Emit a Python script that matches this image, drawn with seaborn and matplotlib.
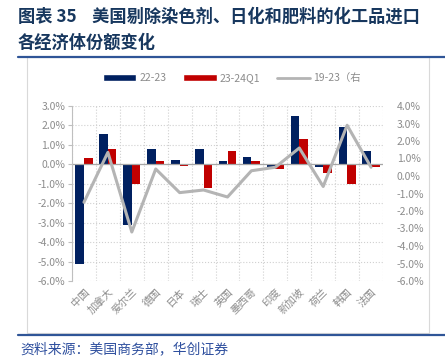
import numpy as np
import pandas as pd
import matplotlib
matplotlib.use("Agg")
import matplotlib.pyplot as plt
import seaborn as sns
from matplotlib.patches import Patch, Rectangle
from matplotlib.lines import Line2D
from matplotlib.ticker import FuncFormatter, MultipleLocator

categories = ["中国", "加拿大", "爱尔兰", "德国", "日本", "瑞士", "英国", "墨西哥",
              "印度", "新加坡", "荷兰", "韩国", "法国"]
s_2223 = [-5.1, 1.55, -3.1, 0.8, 0.2, 0.8, 0.15, 0.38, -0.15, 2.5, -0.15, 1.9, 0.7]
s_2324q1 = [0.35, 0.78, -1.0, 0.15, -0.1, -1.2, 0.7, 0.15, -0.25, 1.3, -0.45, -1.0, -0.15]
s_1923 = [-1.5, 1.35, -3.2, 0.4, -0.95, -0.8, -1.2, 0.3, 0.5, 1.6, -0.6, 2.9, 0.5]
series_names = ["22-23", "23-24Q1", "19-23（右"]
title_1 = "图表 35    美国剔除染色剂、日化和肥料的化工品进口"
title_2 = "各经济体份额变化"
source = "资料来源：美国商务部，华创证券"

sns.set_style("white")
plt.rcParams["font.family"] = ["Noto Sans CJK SC", "DejaVu Sans"]
plt.rcParams["axes.unicode_minus"] = False

navy = "#002060"
red = "#C00000"
gray_line = "#B4B4B4"
tick_gray = "#8C8C8C"
blue_rule = "#2F5597"

df = pd.DataFrame({
    "cat": categories * 2,
    "val": s_2223 + s_2324q1,
    "ser": [series_names[0]] * len(categories) + [series_names[1]] * len(categories),
})

fig = plt.figure(figsize=(4.45, 3.61), dpi=100)
W, H = 445, 361

# frame and rules
fig.add_artist(Rectangle((27 / W, 1 - 333 / H), (429 - 27) / W, (333 - 57) / H,
                         transform=fig.transFigure, fill=False, edgecolor="#D9D9D9", lw=0.8))
fig.add_artist(Line2D([18 / W, 1.0], [1 - 57 / H, 1 - 57 / H], transform=fig.transFigure,
                      color=blue_rule, lw=1.6))
fig.add_artist(Line2D([18 / W, 1.0], [1 - 335 / H, 1 - 335 / H], transform=fig.transFigure,
                      color=blue_rule, lw=1.6))

fig.text(18 / W, 1 - 17 / H, title_1, fontsize=12.4, fontweight="bold", color="#17375E",
         va="center", ha="left")
fig.text(18 / W, 1 - 43 / H, title_2, fontsize=12.4, fontweight="bold", color="#17375E",
         va="center", ha="left")
fig.text(20 / W, 1 - 349 / H, source, fontsize=10, color="#2E4F9E", style="italic",
         va="center", ha="left")

ax = fig.add_axes([72 / W, 1 - 281 / H, (383 - 72) / W, (281 - 106) / H])
sns.barplot(data=df, x="cat", y="val", hue="ser", order=categories,
            hue_order=series_names[:2], palette=[navy, red], width=0.72, gap=0,
            legend=False, ax=ax, saturation=1, errorbar=None, linewidth=0)
ax.set_xlim(-0.5, len(categories) - 0.5)
ax.set_ylim(-6, 3)
ax.yaxis.set_major_locator(MultipleLocator(1))
ax.yaxis.set_major_formatter(FuncFormatter(lambda v, p: f"{v:.1f}%"))
ax.set_xlabel("")
ax.set_ylabel("")
ax.set_xticks(np.arange(len(categories)) + 0.0)
ax.set_xticklabels(categories, rotation=45, ha="right", rotation_mode="anchor",
                   fontsize=7.5, color=tick_gray)
ax.set_xticks(np.arange(len(categories) + 1) - 0.5, minor=True)
ax.tick_params(axis="x", which="both", length=0, pad=4)
ax.tick_params(axis="y", labelsize=7.5, labelcolor=tick_gray, length=3, color="#BFBFBF",
               direction="out", pad=2)
ax.grid(axis="y", which="major", linestyle=":", color="#D0D0D0", lw=0.8)
ax.grid(axis="x", which="minor", linestyle=":", color="#D0D0D0", lw=0.8)
ax.set_axisbelow(True)
for s in ["top", "right", "bottom"]:
    ax.spines[s].set_visible(False)
ax.spines["left"].set_color("#BFBFBF")
ax.axhline(0, color="#A6A6A6", lw=0.9, zorder=1.5)

ax2 = ax.twinx()
sns.lineplot(x=np.arange(len(categories)), y=s_1923, color=gray_line, lw=2.2, ax=ax2)
ax2.set_ylim(-6, 4)
ax2.yaxis.set_major_locator(MultipleLocator(1))
ax2.yaxis.set_major_formatter(FuncFormatter(lambda v, p: f"{v:.1f}%"))
ax2.tick_params(axis="y", labelsize=7.5, labelcolor=tick_gray, length=0, pad=10)
ax2.set_ylabel("")
for s in ax2.spines.values():
    s.set_visible(False)

handles = [Patch(facecolor=navy, label=series_names[0]),
           Patch(facecolor=red, label=series_names[1]),
           Line2D([0], [0], color=gray_line, lw=2, label=series_names[2])]
fig.legend(handles=handles, loc="center", bbox_to_anchor=(232 / W, 1 - 78 / H), ncol=3,
           frameon=False, fontsize=7.5, labelcolor=tick_gray, handlelength=3.2,
           handleheight=0.6, handletextpad=0.3, columnspacing=1.6)

fig.savefig("out.png", dpi=100)
